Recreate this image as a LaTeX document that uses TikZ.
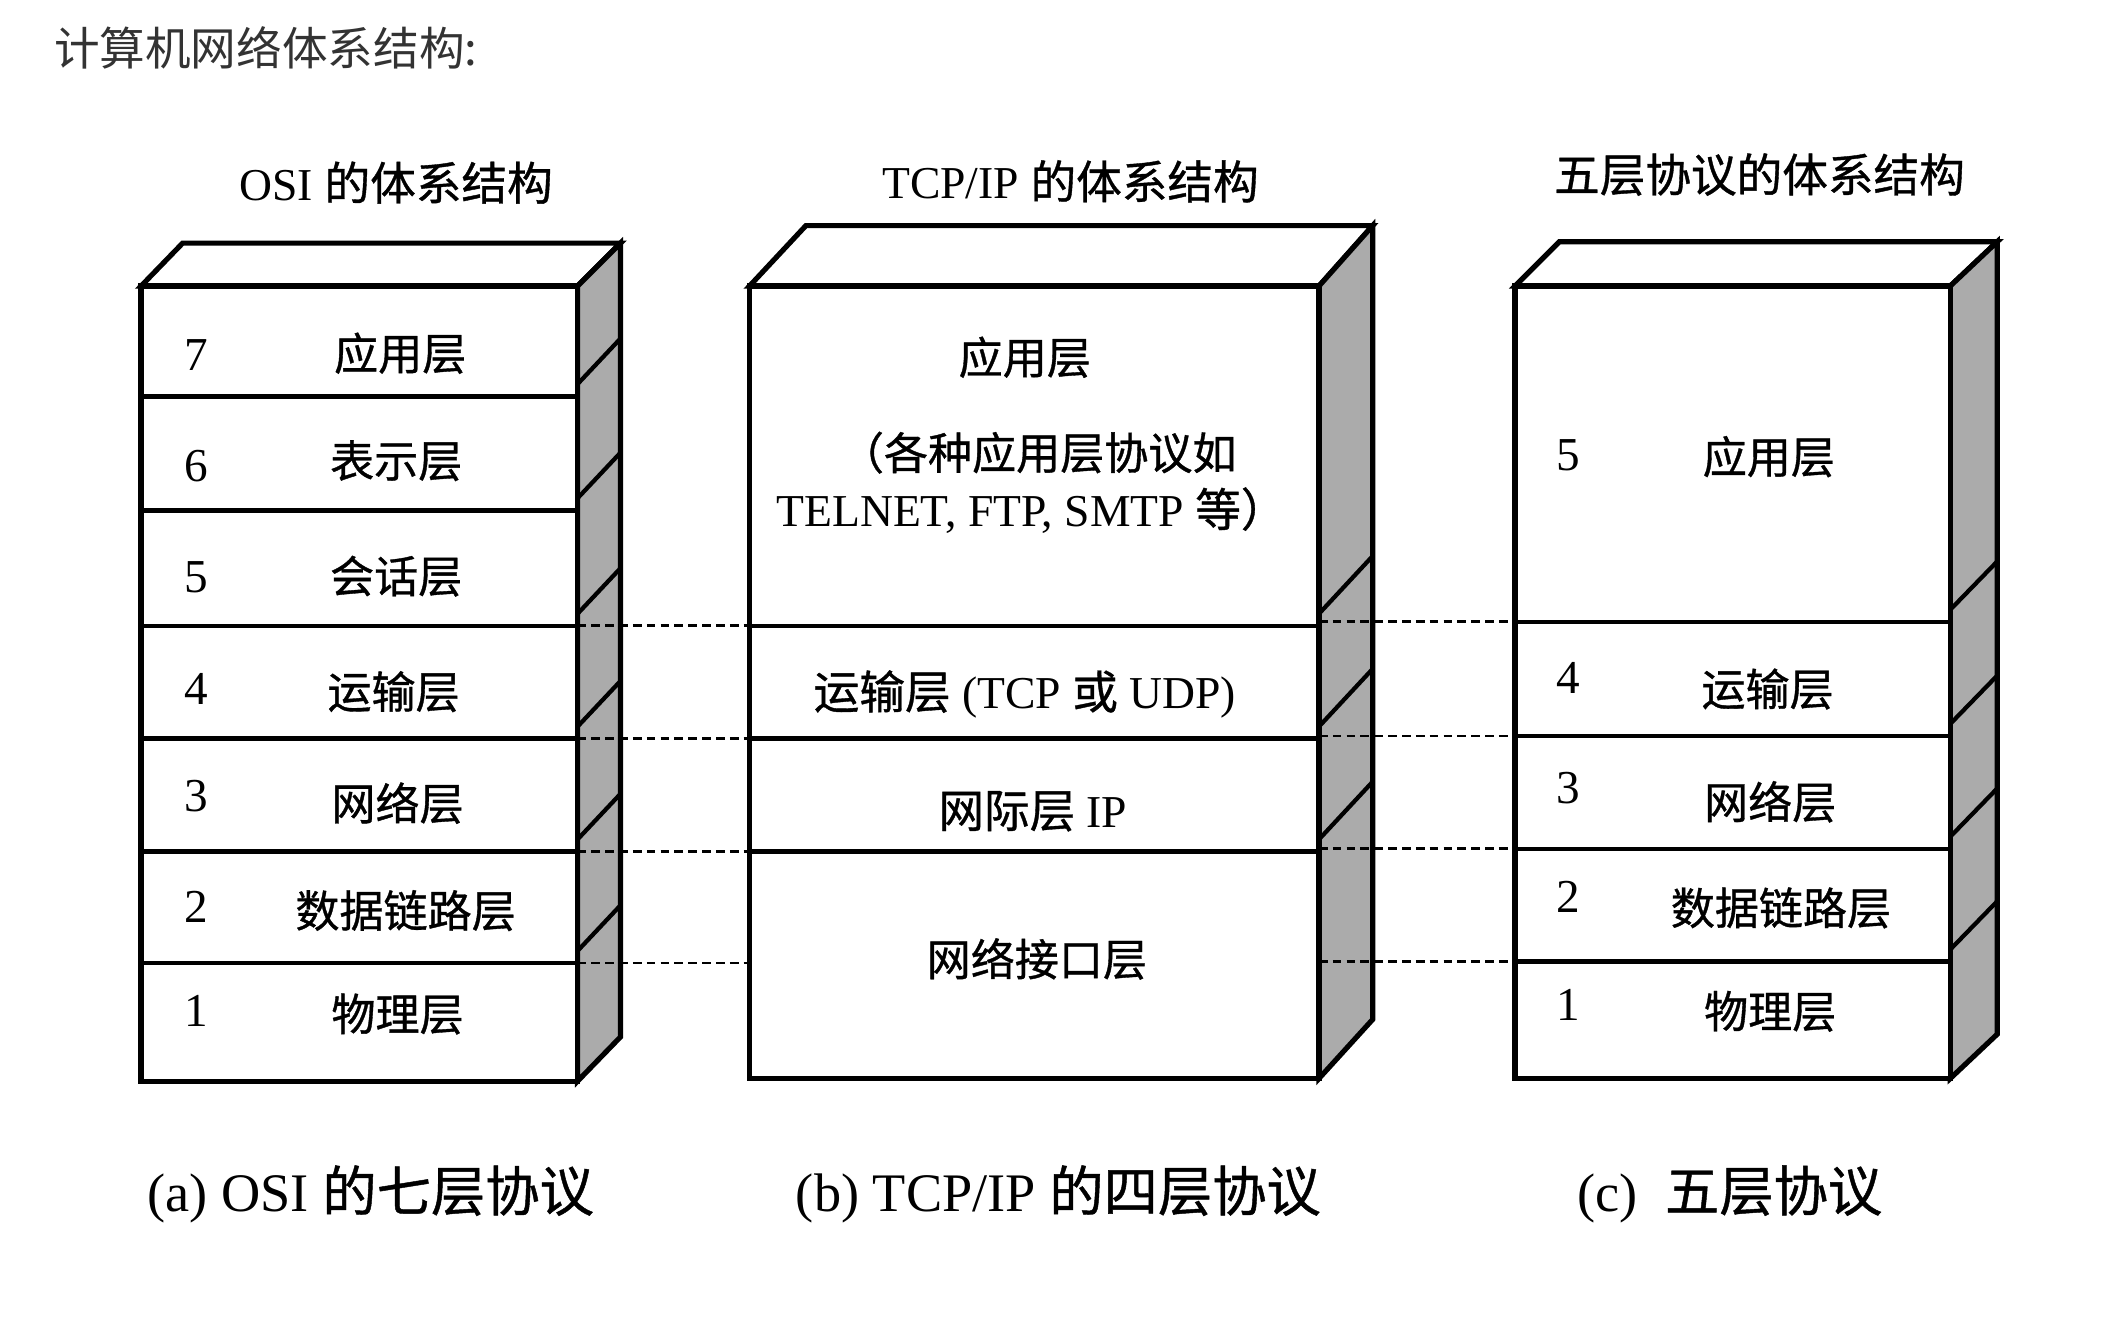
\documentclass[tikz,border=0pt]{standalone}
\usepackage{fontspec}
\setmainfont{Liberation Serif}
\newfontfamily\cjk[RawFeature={embolden=0.8}]{Noto Sans CJK SC}
\newfontfamily\cjktitle{Noto Sans CJK SC}
\newcommand{\zhtxt}[1]{{\cjk #1}}
\begin{document}
\begin{tikzpicture}[x=0.03cm,y=-0.03cm,
  frontface/.style={draw=black,line width=3.3pt,fill=white,line join=miter},
  topface/.style={draw=black,line width=3.3pt,fill=white,line join=miter},
  sideface/.style={draw=black,line width=3.3pt,fill=black!33,line join=miter},
  sepline/.style={draw=black,line width=2.9pt},
  diagline/.style={draw=black,line width=2.7pt},
  dashsep/.style={draw=black,line width=1.8pt,dash pattern=on 5.5pt off 3.3pt},
  lbl/.style={font=\fontsize{28}{32}\selectfont\cjk,inner sep=0pt},
  num/.style={font=\fontsize{30}{34}\selectfont,inner sep=0pt},
  head/.style={font=\fontsize{29}{34}\selectfont,inner sep=0pt},
  capt/.style={font=\fontsize{34.5}{40}\selectfont,inner sep=0pt},
]
\useasboundingbox[fill=white] (0,0) rectangle (1568,988);

% ---------- title ----------
\node[anchor=west,inner sep=0pt,text=black!80,font=\fontsize{29}{34}\selectfont\cjktitle] (title) at (40,36) {计算机网络体系结构:};

% ---------- (a) OSI box ----------
\coordinate (oFL) at (105,213); \coordinate (oFR) at (430,213);
\coordinate (oBL) at (105,805); \coordinate (oBR) at (430,805);
\path[topface] (105,213) -- (136,181) -- (462,181) -- (430,213) -- cycle;
\path[sideface] (430,213) -- (462,181) -- (462,772) -- (430,805) -- cycle;
\foreach \b in {295,380,466,550,634,717}{
  \draw[diagline] (430,\b-9) -- (462,\b-43);
}
\path[frontface] (oFL) rectangle (oBR);
\foreach \b in {295,380,466,550,634,717}{
  \draw[sepline] (105,\b) -- (430,\b);
}
\node[head] (ohead) at (295,136) {OSI \zhtxt{的体系结构}};
\node[num] (o7) at (146,264) {7}; \node[lbl] (o7t) at (298,263) {应用层};
\node[num] (o6) at (146,347) {6}; \node[lbl] (o6t) at (295,343) {表示层};
\node[num] (o5) at (146,430) {5}; \node[lbl] (o5t) at (295,429) {会话层};
\node[num] (o4) at (146,513) {4}; \node[lbl] (o4t) at (293,515) {运输层};
\node[num] (o3) at (146,593) {3}; \node[lbl] (o3t) at (296,598) {网络层};
\node[num] (o2) at (146,675) {2}; \node[lbl] (o2t) at (302,678) {数据链路层};
\node[num] (o1) at (146,753) {1}; \node[lbl] (o1t) at (296,755) {物理层};

% ---------- (b) TCP/IP box ----------
\path[topface] (558,213) -- (600,168) -- (1022,168) -- (982,213) -- cycle;
\path[sideface] (982,213) -- (1022,168) -- (1022,759) -- (982,803) -- cycle;
\foreach \b in {466,550,634}{
  \draw[diagline] (982,\b-9) -- (1022,\b-52);
}
\path[frontface] (558,213) rectangle (982,803);
\foreach \b in {466,550,634}{
  \draw[sepline] (558,\b) -- (982,\b);
}
\node[head] (thead) at (797,135) {TCP/IP \zhtxt{的体系结构}};
\node[lbl] (tapp) at (763,266) {应用层};
\node[lbl] (tapp2) at (773,337) {（各种应用层协议如};
\node[head] (tapp3) at (768,380) {TELNET, FTP, SMTP \zhtxt{等）}};
\node[head] (ttr) at (763,517) {\zhtxt{运输层} (TCP \zhtxt{或} UDP)};
\node[head] (tip) at (769,604) {\zhtxt{网际层} IP};
\node[lbl] (tni) at (772,714) {网络接口层};

% ---------- (c) five-layer box ----------
\path[topface] (1128,213) -- (1161,180) -- (1487,180) -- (1452,213) -- cycle;
\path[sideface] (1452,213) -- (1487,180) -- (1487,770) -- (1452,803) -- cycle;
\foreach \b in {463,548,632,716}{
  \draw[diagline] (1452,\b-9) -- (1487,\b-45);
}
\path[frontface] (1128,213) rectangle (1452,803);
\foreach \b in {463,548,632,716}{
  \draw[sepline] (1128,\b) -- (1452,\b);
}
\node[head] (fhead) at (1310,130) {\zhtxt{五层协议的体系结构}};
\node[num] (f5) at (1168,339) {5}; \node[lbl] (f5t) at (1317,340) {应用层};
\node[num] (f4) at (1168,505) {4}; \node[lbl] (f4t) at (1316,513) {运输层};
\node[num] (f3) at (1168,587) {3}; \node[lbl] (f3t) at (1318,597) {网络层};
\node[num] (f2) at (1168,668) {2}; \node[lbl] (f2t) at (1326,676) {数据链路层};
\node[num] (f1) at (1168,748) {1}; \node[lbl] (f1t) at (1318,753) {物理层};

% ---------- dashed correspondences ----------
\foreach \b in {466,550,634,717}{
  \coordinate (da\b) at (430,\b); \coordinate (db\b) at (558,\b);
  \draw[dashsep] (da\b) -- (db\b);
}
\foreach \b in {463,548,632,716}{
  \coordinate (dc\b) at (982,\b); \coordinate (dd\b) at (1128,\b);
  \draw[dashsep] (dc\b) -- (dd\b);
}

% ---------- captions ----------
\node[capt] (ca) at (276,889) {(a) OSI \zhtxt{的七层协议}};
\node[capt] (cb) at (788,889) {(b) TCP/IP \zhtxt{的四层协议}};
\node[capt] (cc) at (1288,889) {(c)\ \ \zhtxt{五层协议}};
\end{tikzpicture}
\end{document}
